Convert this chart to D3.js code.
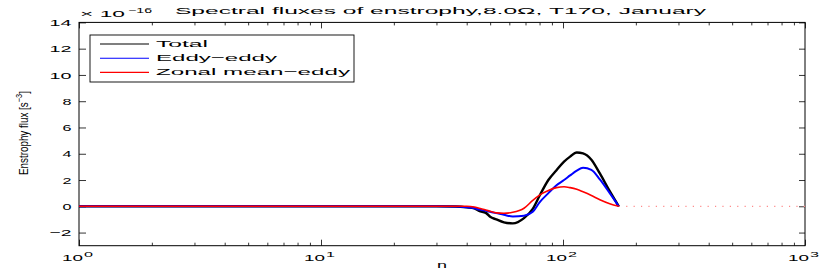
<!DOCTYPE html>
<html>
<head>
<meta charset="utf-8">
<script src="https://cdn.jsdelivr.net/npm/d3@7"></script>
<style>
  html, body { margin: 0; padding: 0; background: #fff; }
  svg { display: block; font-family: "Liberation Sans", Arial, sans-serif; }
</style>
</head>
<body>
<svg id="chart" width="830" height="273"></svg>
<script>
// ---- data ----
const nValues       = [1, 3, 10, 30, 36, 40, 43, 45, 48, 50, 53, 57, 62, 69, 75, 80, 87, 94, 101, 107, 114, 121, 131, 142, 156, 170];
const totalFlux     = [0, 0, 0, 0, -0.02, -0.08, -0.15, -0.35, -0.5, -0.8, -1.0, -1.22, -1.3, -0.9, -0.2, 0.8, 2.0, 2.75, 3.4, 3.78, 4.1, 4.03, 3.55, 2.5, 1.15, 0];
const eddyEddy      = [0, 0, 0, 0, -0.02, -0.08, -0.15, -0.25, -0.35, -0.42, -0.52, -0.65, -0.78, -0.72, -0.42, 0.3, 1.0, 1.6, 2.0, 2.35, 2.72, 2.94, 2.78, 2.05, 1.0, 0];
const zonalMeanEddy = [0, 0, 0, 0, 0, 0, -0.05, -0.15, -0.28, -0.38, -0.5, -0.53, -0.46, -0.15, 0.45, 0.85, 1.2, 1.42, 1.49, 1.42, 1.29, 1.1, 0.82, 0.5, 0.2, 0];
const zeroExtN      = [170, 1000];
const zeroExtV      = [0, 0];
const yTicks        = [-2, 0, 2, 4, 6, 8, 10, 12, 14];
const xMajorTicks   = [1, 10, 100, 1000];
const xTickExps     = ["0", "1", "2", "3"];
const seriesNames   = ["Total", "Eddy\u2212eddy", "Zonal mean\u2212eddy"];
const seriesColors  = ["#000000", "#0000ff", "#ff0000"];
const titleText     = "Spectral fluxes of enstrophy,8.0\u03A9, T170, January";

// ---- layout ----
const L = 79, R = 805, T = 22.4, B = 245.7;
const svg = d3.select("#chart");
const x = d3.scaleLog().domain([1, 1000]).range([L, R]);
const y = d3.scaleLinear().domain([-3, 14]).range([B, T]);

function txt(g, xp, yp, s, size, len, anchor) {
  const t = g.append("text").attr("x", xp).attr("y", yp)
    .attr("font-size", size).attr("fill", "#000")
    .attr("text-anchor", anchor || "start").text(s);
  if (len) t.attr("textLength", len).attr("lengthAdjust", "spacingAndGlyphs");
  return t;
}

// minor ticks
const xMinor = [];
for (let k = 0; k < 3; k++) for (let m = 2; m <= 9; m++) xMinor.push(m * Math.pow(10, k));

// axes (ticks inward)
const gx = svg.append("g");
gx.append("g").attr("transform", `translate(0,${B})`)
  .call(d3.axisBottom(x).tickValues(xMinor).tickSize(-3).tickFormat(""));
gx.append("g").attr("transform", `translate(0,${B})`)
  .call(d3.axisBottom(x).tickValues(xMajorTicks).tickSize(-6).tickFormat(""));
gx.append("g").attr("transform", `translate(0,${T})`)
  .call(d3.axisTop(x).tickValues(xMinor).tickSize(-3).tickFormat(""));
gx.append("g").attr("transform", `translate(0,${T})`)
  .call(d3.axisTop(x).tickValues(xMajorTicks).tickSize(-6).tickFormat(""));
gx.append("g").attr("transform", `translate(${L},0)`)
  .call(d3.axisLeft(y).tickValues(yTicks).tickSize(-7).tickFormat(""));
gx.append("g").attr("transform", `translate(${R},0)`)
  .call(d3.axisRight(y).tickValues(yTicks).tickSize(-6).tickFormat(""));
gx.selectAll(".domain").remove();
gx.selectAll("line").attr("stroke", "#000").attr("stroke-width", 0.8);

// frame
svg.append("rect").attr("x", L).attr("y", T).attr("width", R - L).attr("height", B - T)
  .attr("fill", "none").attr("stroke", "#000").attr("stroke-width", 1);

// y tick labels
const gyl = svg.append("g");
yTicks.forEach(v => {
  const s = v < 0 ? "\u2212" + Math.abs(v) : String(v);
  txt(gyl, 71.5, y(v) + 3.6, s, 9.5, s.length === 1 ? 9 : 22, "end");
});

// x tick labels 10^k
const gxl = svg.append("g");
xMajorTicks.forEach((v, i) => {
  const px = x(v);
  txt(gxl, px - 17, 261, "10", 9.5, 21);
  txt(gxl, px + 5, 256.5, xTickExps[i], 7, 9);
});

// multiplier
txt(svg, 80, 17.3, "\u00D7 10", 9.5, 45);
txt(svg, 128, 12.5, "\u221216", 7, 24);

// title
txt(svg, 175, 14, titleText, 9.5, 531);

// axis labels
txt(svg, 437, 268.3, "n", 9.5, 10);
const yl = svg.append("g").attr("transform", "translate(27.5,175) rotate(-90) scale(0.82,1)");
const ylt = yl.append("text").attr("font-size", 12).attr("fill", "#000");
ylt.append("tspan").text("Enstrophy flux [s");
ylt.append("tspan").attr("font-size", 9).attr("dy", -5.5).text("\u22123");
ylt.append("tspan").attr("dy", 5.5).text("]");

// plot
svg.append("clipPath").attr("id", "pc").append("rect")
  .attr("x", L).attr("y", T).attr("width", R - L).attr("height", B - T);
const gp = svg.append("g").attr("clip-path", "url(#pc)");

const lineGen = d3.line().x(d => x(d[0])).y(d => y(d[1])).curve(d3.curveMonotoneX);

gp.append("path")
  .attr("d", d3.line().x(d => x(d[0])).y(d => y(d[1]))(zeroExtN.map((n, i) => [n, zeroExtV[i]])))
  .attr("fill", "none").attr("stroke", "#ff8a8a").attr("stroke-width", 1.2)
  .attr("stroke-dasharray", "1.2,6.2");

const series = [totalFlux, eddyEddy, zonalMeanEddy];
const widths = [2.4, 2, 1.6];
series.forEach((vals, i) => {
  gp.append("path")
    .attr("d", lineGen(nValues.map((n, j) => [n, vals[j]])))
    .attr("fill", "none").attr("stroke", seriesColors[i])
    .attr("stroke-width", widths[i]).attr("stroke-linejoin", "round");
});

// legend
const lg = svg.append("g");
lg.append("rect").attr("x", 90).attr("y", 35).attr("width", 264).attr("height", 47)
  .attr("fill", "#fff").attr("stroke", "#000").attr("stroke-width", 0.9);
const legendLens = [52, 121, 194];
seriesNames.forEach((name, i) => {
  const ly = 44 + i * 14.2;
  lg.append("line").attr("x1", 100).attr("x2", 149).attr("y1", ly).attr("y2", ly)
    .attr("stroke", seriesColors[i]).attr("stroke-width", 1.1);
  txt(lg, 156, ly + 3, name, 9.5, legendLens[i]);
});
</script>
</body>
</html>
